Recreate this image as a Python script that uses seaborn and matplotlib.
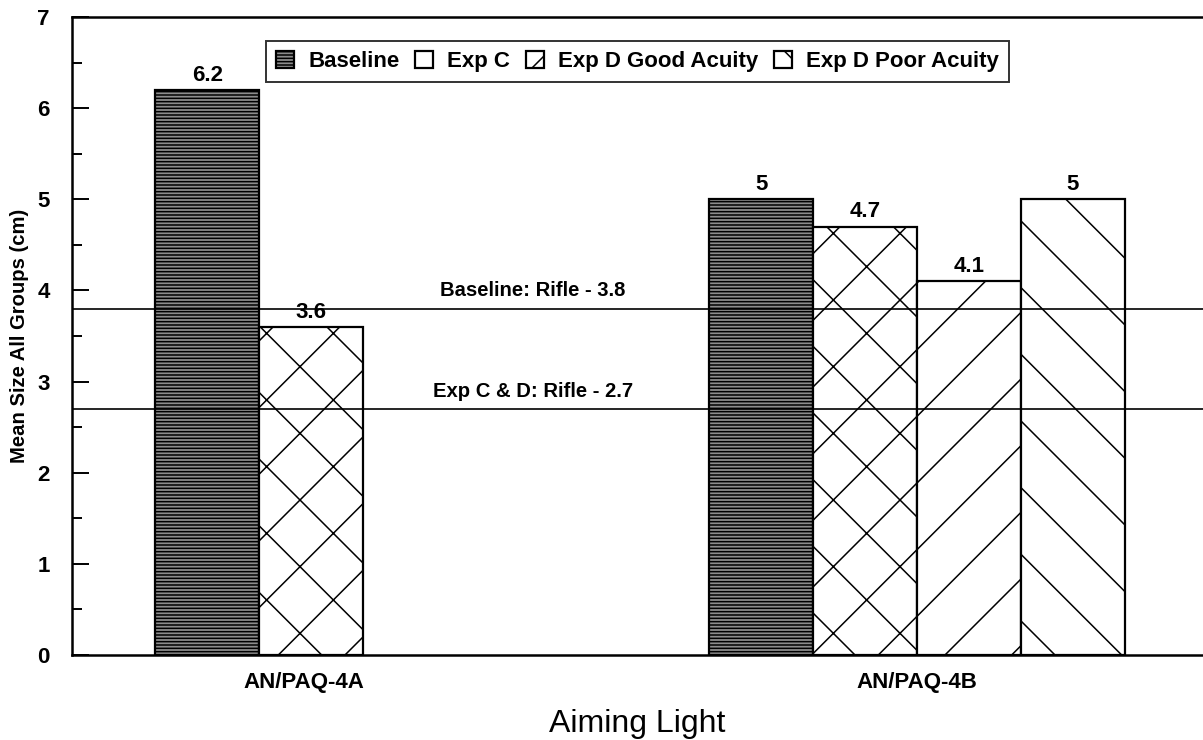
import pandas as pd
import matplotlib.pyplot as plt
import seaborn as sns

lights = ['AN/PAQ-4A', 'AN/PAQ-4A', 'AN/PAQ-4B', 'AN/PAQ-4B', 'AN/PAQ-4B', 'AN/PAQ-4B']
conditions = ['Baseline', 'Exp C', 'Baseline', 'Exp C', 'Exp D Good Acuity', 'Exp D Poor Acuity']
mean_size = [6.2, 3.6, 5.0, 4.7, 4.1, 5.0]

series = ['Baseline', 'Exp C', 'Exp D Good Acuity', 'Exp D Poor Acuity']
hatches = ['-' * 10, 'x', '/', '\\']
faces = ['#8c8c8c', 'white', 'white', 'white']

rifle_levels = [3.8, 2.7]
rifle_labels = ['Baseline: Rifle - 3.8', 'Exp C & D: Rifle - 2.7']

df = pd.DataFrame({'Aiming Light': lights, 'Condition': conditions, 'Mean Size': mean_size})

sns.set_theme(style='white')
plt.rcParams['font.family'] = ['Liberation Sans', 'DejaVu Sans']
plt.rcParams['hatch.linewidth'] = 0.55
for k in ['text.color', 'axes.labelcolor', 'xtick.color', 'ytick.color']:
    plt.rcParams[k] = 'black'

fig = plt.figure(figsize=(6.015, 3.7), dpi=200)
ax = fig.add_axes([0.06, 0.115, 0.94, 0.862])

sns.barplot(data=df, x='Aiming Light', y='Mean Size', hue='Condition', hue_order=series,
            width=0.75, gap=0, dodge=True, legend=False, ax=ax)

for cont, h, fc in zip(ax.containers, hatches, faces):
    for bar in cont:
        bar.set_facecolor(fc)
        bar.set_edgecolor('black')
        bar.set_hatch(h)
        bar.set_linewidth(0.8)
    ax.bar_label(cont, fmt='%g', padding=1.5, fontsize=8, fontweight='bold')

# rifle reference lines
for lvl, txt in zip(rifle_levels, rifle_labels):
    ax.axhline(lvl, color='black', lw=0.6, zorder=5)
    ax.text(0.307, lvl + 0.09, txt, ha='center', va='bottom', fontsize=7.3, fontweight='bold')

leg = ax.legend(ax.containers, series, loc='upper center', bbox_to_anchor=(0.5, 0.962),
                ncol=4, frameon=True, fancybox=False, handlelength=0.8, handleheight=0.8,
                handletextpad=0.65, columnspacing=0.7, borderpad=0.45, borderaxespad=0,
                prop={'size': 8, 'weight': 'bold'})
leg.get_frame().set_edgecolor('black')
leg.get_frame().set_linewidth(0.7)

ax.set_ylim(0, 7)
ax.set_xlim(-0.525, 1.516)
ax.set_yticks(range(0, 8))
ax.set_yticks([i + 0.5 for i in range(7)], minor=True)
ax.set_xticks([-0.107, 1])
ax.set_xticklabels(['AN/PAQ-4A', 'AN/PAQ-4B'], fontsize=8, fontweight='bold')
ax.tick_params(axis='x', length=0, pad=6)
ax.tick_params(axis='y', which='major', direction='in', length=6, width=0.7,
               labelsize=8, pad=8, left=True)
ax.tick_params(axis='y', which='minor', direction='in', length=3.5, width=0.7, left=True)
for lab in ax.get_yticklabels():
    lab.set_fontweight('bold')

ax.set_ylabel('Mean Size All Groups (cm)', fontsize=7.3, fontweight='bold', labelpad=3)
ax.set_xlabel('Aiming Light', fontsize=11.5, labelpad=6)

ax.spines['right'].set_visible(False)
for s in ['left', 'top', 'bottom']:
    ax.spines[s].set_color('black')
    ax.spines[s].set_linewidth(0.9)

fig.savefig('out.png', dpi=200, facecolor='white')
